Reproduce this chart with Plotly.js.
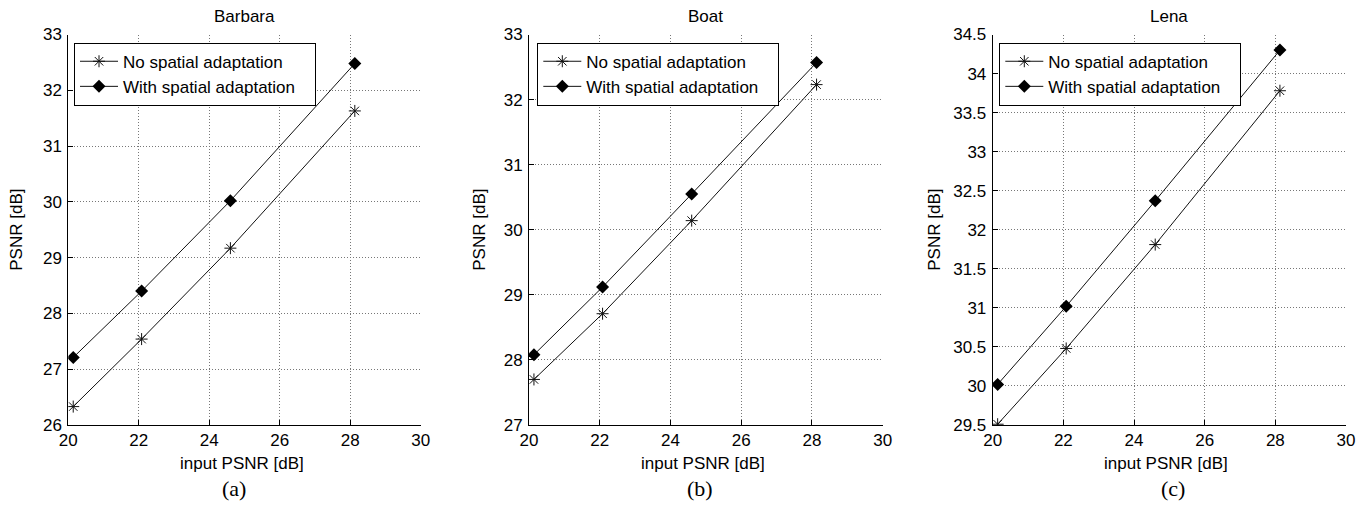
<!DOCTYPE html>
<html>
<head>
<meta charset="utf-8">
<script src="https://cdn.plot.ly/plotly-3.0.1.min.js"></script>
<style>html,body{margin:0;padding:0;background:#fff;}#chart{width:1370px;height:510px;}</style>
</head>
<body>
<div id="chart"></div>
<script>
// ---- data ----
const inputPSNR = [20.14, 22.08, 24.6, 28.13];
const barbaraNo = [26.33, 27.54, 29.17, 31.63];
const barbaraWith = [27.21, 28.40, 30.02, 32.48];
const boatNo = [27.70, 28.71, 30.14, 32.23];
const boatWith = [28.08, 29.12, 30.55, 32.57];
const lenaNo = [29.51, 30.48, 31.81, 33.78];
const lenaWith = [30.02, 31.02, 32.37, 34.30];
const panelTitles = ["Barbara", "Boat", "Lena"];
const panelLetters = ["(a)", "(b)", "(c)"];
const seriesNames = ["No spatial adaptation", "With spatial adaptation"];
const xTicks = [20, 22, 24, 26, 28, 30];
const yRanges = [[26, 33], [27, 33], [29.5, 34.5]];
const yDticks = [1, 1, 0.5];

// ---- layout geometry (pixels) ----
const W = 1370, H = 510;
const plotTop = 34.5, plotBottom = 425;
const panels = [
  {left: 68.3, right: 420.7, legX: 74, ylabX: 17, letterX: 234},
  {left: 529, right: 882.7, legX: 537.3, ylabX: 480, letterX: 700},
  {left: 992.7, right: 1346, legX: 999.3, ylabX: 935, letterX: 1173}
];
const px = v => v / W;
const py = v => 1 - v / H;

const FONT = "Liberation Sans, Arial, Helvetica, sans-serif";
const FS = 17;
const noData = [barbaraNo, boatNo, lenaNo];
const withData = [barbaraWith, boatWith, lenaWith];
const pad = "\u00a0\u00a0\u00a0";

const traces = [];
const layout = {
  width: W, height: H,
  margin: {l: 0, r: 0, t: 0, b: 0},
  paper_bgcolor: "white", plot_bgcolor: "white",
  font: {family: FONT, size: FS, color: "black"},
  showlegend: true,
  annotations: []
};

panels.forEach((p, i) => {
  const n = i + 1;
  const xa = n === 1 ? "x" : "x" + n;
  const ya = n === 1 ? "y" : "y" + n;
  const lg = n === 1 ? "legend" : "legend" + n;
  traces.push({
    x: inputPSNR, y: noData[i], xaxis: xa, yaxis: ya, legend: lg,
    name: seriesNames[0] + pad, type: "scatter", mode: "lines+markers",
    line: {color: "#111", width: 1},
    marker: {symbol: "asterisk-open", size: 10, color: "#111", line: {color: "#111", width: 1}}
  });
  traces.push({
    x: inputPSNR, y: withData[i], xaxis: xa, yaxis: ya, legend: lg,
    name: seriesNames[1] + pad, type: "scatter", mode: "lines+markers",
    line: {color: "#111", width: 1},
    marker: {symbol: "diamond", size: 10, color: "#000"}
  });
  const axCommon = {
    showline: true, linecolor: "#000", linewidth: 1, mirror: false,
    ticks: "inside", ticklen: 5, tickcolor: "#000", tickwidth: 1,
    showgrid: true, gridcolor: "#777", griddash: "1px,2px", gridwidth: 1,
    zeroline: false, tickfont: {family: FONT, size: FS, color: "#000"}
  };
  layout["xaxis" + (n === 1 ? "" : n)] = Object.assign({}, axCommon, {
    domain: [px(p.left), px(p.right)], anchor: ya,
    range: [20, 30], tickvals: xTicks, ticktext: xTicks.map(String)
  });
  layout["yaxis" + (n === 1 ? "" : n)] = Object.assign({}, axCommon, {
    domain: [py(plotBottom), py(plotTop)], anchor: xa,
    range: yRanges[i], dtick: yDticks[i], tick0: 0, ticklabelstandoff: 2
  });
  layout[lg] = {
    x: px(p.legX), y: py(42.7), xanchor: "left", yanchor: "top",
    xref: "paper", yref: "paper",
    bgcolor: "white", bordercolor: "#000", borderwidth: 1,
    font: {family: FONT, size: FS, color: "#000"},
    tracegroupgap: 0, itemwidth: 38
  };
  const cx = (p.left + p.right) / 2;
  layout.annotations.push(
    {text: panelTitles[i], x: px(cx), y: py(17), xref: "paper", yref: "paper",
     showarrow: false, xanchor: "center", yanchor: "middle", font: {family: FONT, size: FS}},
    {text: "input PSNR [dB]", x: px(cx - 3), y: py(463), xref: "paper", yref: "paper",
     showarrow: false, xanchor: "center", yanchor: "middle", font: {family: FONT, size: FS}},
    {text: "PSNR [dB]", x: px(p.ylabX), y: py((plotTop + plotBottom) / 2), xref: "paper", yref: "paper",
     showarrow: false, xanchor: "center", yanchor: "middle", textangle: -90, font: {family: FONT, size: FS}},
    {text: panelLetters[i], x: px(p.letterX), y: py(488), xref: "paper", yref: "paper",
     showarrow: false, xanchor: "center", yanchor: "middle",
     font: {family: "Liberation Serif, Times New Roman, serif", size: 22}}
  );
});

Plotly.newPlot("chart", traces, layout, {displayModeBar: false, staticPlot: true});
</script>
</body>
</html>
